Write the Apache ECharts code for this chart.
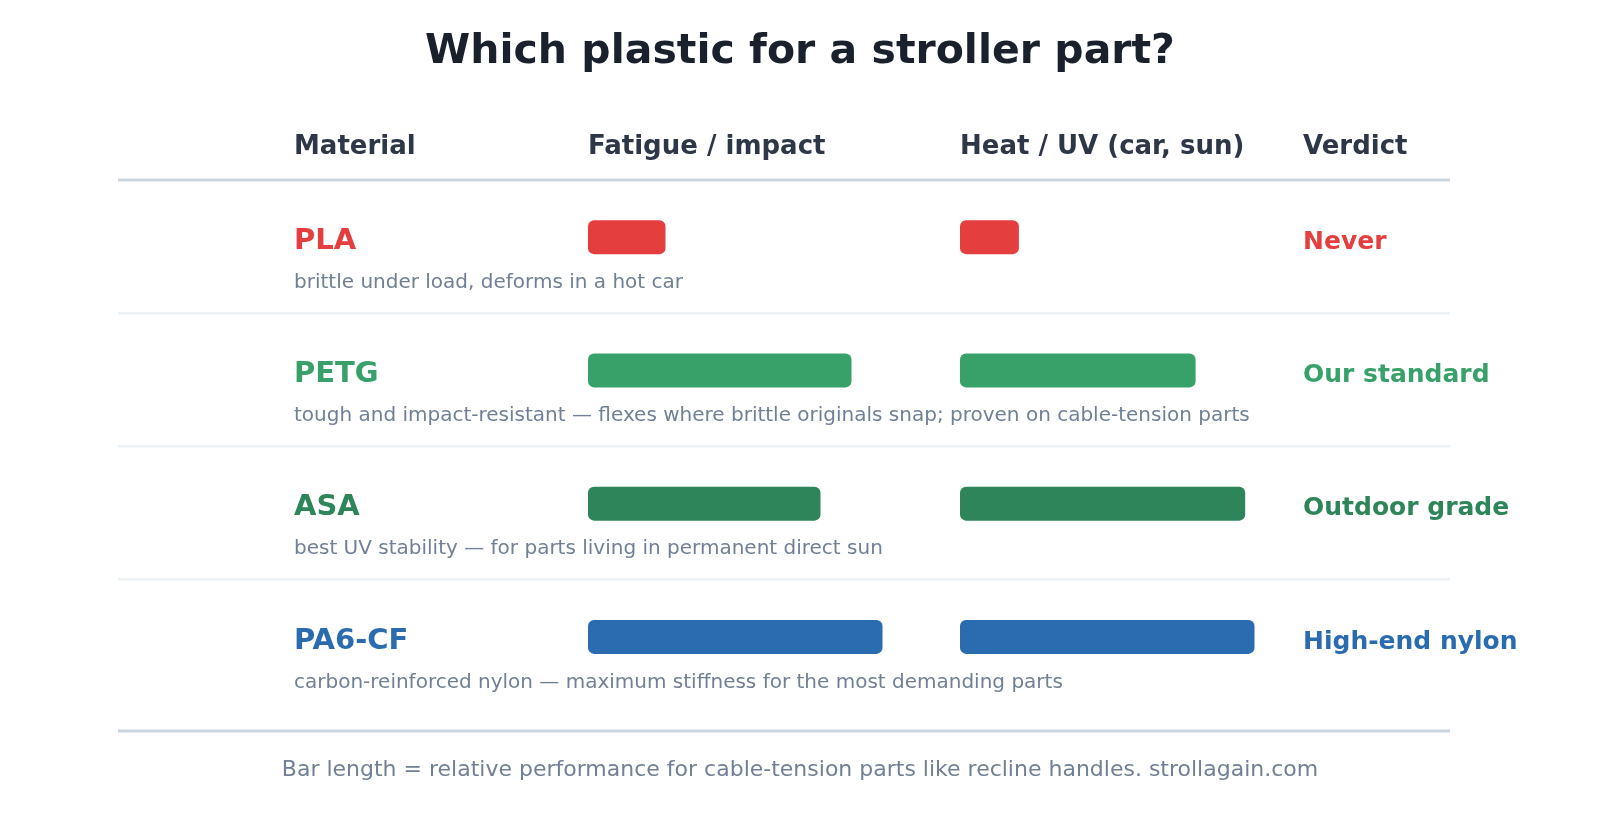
<!DOCTYPE html><html><head><meta charset="utf-8"><script src="https://cdn.jsdelivr.net/npm/echarts@6/dist/echarts.min.js"></script>
<style>html,body{margin:0;background:#fff}#c{width:1600px;height:840px}</style></head><body><div id="c"></div><script>
const materials=['PLA','PETG','ASA','PA6-CF'];
const notes=['brittle under load, deforms in a hot car','tough and impact-resistant — flexes where brittle originals snap; proven on cable-tension parts','best UV stability — for parts living in permanent direct sun','carbon-reinforced nylon — maximum stiffness for the most demanding parts'];
const verdicts=['Never','Our standard','Outdoor grade','High-end nylon'];
const fatigue=[25,85,75,95];
const heat=[19,76,92,95];
const colors=['#e53e3e','#38a169','#2f855a','#2b6cb0'];
const headers=['Material','Fatigue / impact','Heat / UV (car, sun)','Verdict'];
const F='DejaVu Sans';
const ch=echarts.init(document.getElementById('c'));
const rowY=[237,370,503,637];
const g=[];
g.push({type:'text',left:'center',top:32,style:{text:'Which plastic for a stroller part?',font:'bold 41px '+F,fill:'#1a202c'}});
[294,588,960,1303].forEach((x,i)=>g.push({type:'text',x:x,y:147,style:{text:headers[i],font:'bold 26px '+F,fill:'#2d3748',verticalAlign:'middle'}}));
g.push({type:'rect',shape:{x:118,y:178.5,width:1332,height:3},style:{fill:'#cbd5e0'}});
g.push({type:'rect',shape:{x:118,y:729.5,width:1332,height:3},style:{fill:'#cbd5e0'}});
[313,446,579].forEach(y=>g.push({type:'rect',shape:{x:118,y:y-1,width:1332,height:2.5},style:{fill:'#edf2f7'}}));
materials.forEach((m,i)=>{
 g.push({type:'text',x:294,y:rowY[i]+4,style:{text:m,font:'bold 29px '+F,fill:colors[i],verticalAlign:'middle'}});
 g.push({type:'text',x:294,y:rowY[i]+46,style:{text:notes[i],font:'20px '+F,fill:'#718096',verticalAlign:'middle'}});
 g.push({type:'text',x:1303,y:rowY[i]+5,style:{text:verdicts[i],font:'bold 25px '+F,fill:colors[i],verticalAlign:'middle'}});
});
g.push({type:'text',left:'center',top:759,style:{text:'Bar length = relative performance for cable-tension parts like recline handles. strollagain.com',font:'22px '+F,fill:'#718096'}});
const mk=arr=>arr.map((v,i)=>({value:v,itemStyle:{color:colors[i]}}));
const ax={type:'category',data:materials,inverse:true,show:false};
const vx={type:'value',min:0,max:100,show:false};
ch.setOption({animation:false,graphic:g,
grid:[{left:588,width:310,top:170.5,height:533},{left:960,width:310,top:170.5,height:533}],
xAxis:[Object.assign({gridIndex:0},vx),Object.assign({gridIndex:1},vx)],
yAxis:[Object.assign({gridIndex:0},ax),Object.assign({gridIndex:1},ax)],
series:[{type:'bar',xAxisIndex:0,yAxisIndex:0,data:mk(fatigue),barWidth:34,itemStyle:{borderRadius:6}},
{type:'bar',xAxisIndex:1,yAxisIndex:1,data:mk(heat),barWidth:34,itemStyle:{borderRadius:6}}]});
</script></body></html>
